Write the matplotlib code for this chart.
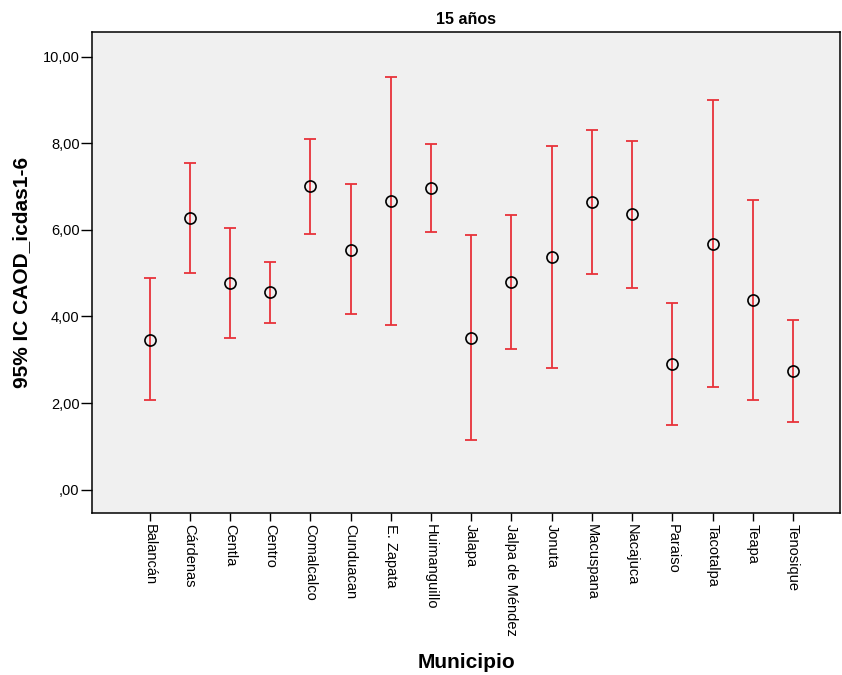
import numpy as np
import matplotlib
matplotlib.use("Agg")
import matplotlib.pyplot as plt
from matplotlib.ticker import FuncFormatter

plt.rcParams['font.family'] = ['Liberation Sans', 'DejaVu Sans']

municipios = ['Balancán', 'Cárdenas', 'Centla', 'Centro', 'Comalcalco', 'Cunduacan',
              'E. Zapata', 'Huimanguillo', 'Jalapa', 'Jalpa de Méndez', 'Jonuta',
              'Macuspana', 'Nacajuca', 'Paraiso', 'Tacotalpa', 'Teapa', 'Tenosique']
media = [3.46, 6.28, 4.77, 4.56, 7.01, 5.54, 6.67, 6.96, 3.51, 4.80, 5.38,
         6.64, 6.36, 2.89, 5.67, 4.37, 2.74]
ic_sup = [4.88, 7.55, 6.05, 5.25, 8.10, 7.05, 9.54, 7.98, 5.87, 6.34, 7.94,
          8.31, 8.06, 4.30, 8.99, 6.68, 3.91]
ic_inf = [2.06, 5.01, 3.50, 3.86, 5.91, 4.05, 3.81, 5.94, 1.14, 3.24, 2.82,
          4.98, 4.65, 1.49, 2.36, 2.06, 1.56]

x = np.arange(len(municipios))
media = np.array(media)
err = [media - np.array(ic_inf), np.array(ic_sup) - media]

fig = plt.figure(figsize=(8.42, 6.75), dpi=100)
ax = fig.add_axes([0.1093, 0.24, 0.8883, 0.7126])
ax.set_facecolor('#f0f0f0')

# barras de error (IC 95%)
ax.errorbar(x, media, yerr=err, fmt='none', ecolor='#e8323a', elinewidth=1.3,
            capsize=4.5, capthick=1.3, zorder=2)
# medias
ax.plot(x, media, 'o', markerfacecolor='none', markeredgecolor='black',
        markersize=8, markeredgewidth=1.2, zorder=3)

ax.set_xlim(-1.43, 17.17)
ax.set_ylim(-0.54, 10.57)
ax.set_yticks([0, 2, 4, 6, 8, 10])
ax.yaxis.set_major_formatter(FuncFormatter(
    lambda v, p: ',00' if v == 0 else f'{v:.2f}'.replace('.', ',')))
ax.set_xticks(x)
ax.set_xticklabels(municipios, rotation=-90, fontsize=10.5)
ax.tick_params(axis='y', labelsize=10.5, length=8, width=1, direction='out', pad=1)
ax.tick_params(axis='x', length=6, width=1, direction='out', pad=2)

for s in ax.spines.values():
    s.set_linewidth(1.1)
    s.set_color('black')

ax.set_title('15 años', fontsize=11.5, fontweight='bold', pad=6)
ax.set_ylabel('95% IC CAOD_icdas1-6', fontsize=15, fontweight='bold', labelpad=8)
ax.set_xlabel('Municipio', fontsize=15, fontweight='bold', labelpad=12)

fig.savefig('out.png', dpi=100)
